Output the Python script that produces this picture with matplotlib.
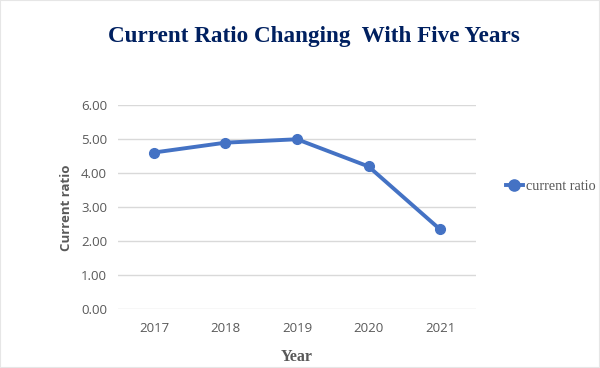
import matplotlib
matplotlib.use("Agg")
import matplotlib.pyplot as plt
from matplotlib.patches import Rectangle

# data
years = ["2017", "2018", "2019", "2020", "2021"]
current_ratio = [4.61, 4.90, 5.00, 4.20, 2.35]
y_ticks = [0, 1, 2, 3, 4, 5, 6]

LINE = "#4472C4"
GRAY = "#595959"
GRID = "#D9D9D9"

fig = plt.figure(figsize=(6, 3.68), dpi=100)
ax = fig.add_axes([0.197, 0.1595, 0.596, 0.5545])

ax.plot(range(len(years)), current_ratio, color=LINE, lw=2.8, marker="o",
        markersize=7, label="current ratio", zorder=3)

ax.set_xlim(-0.5, len(years) - 0.5)
ax.set_ylim(0, 6)
ax.set_xticks(range(len(years)))
ax.set_xticklabels(years)
ax.set_yticks(y_ticks)
ax.set_yticklabels([f"{v:.2f}" for v in y_ticks])
ax.tick_params(axis="y", length=0, labelsize=9.5, colors=GRAY, pad=8)
ax.tick_params(axis="x", length=0, labelsize=9.5, colors=GRAY, pad=9)
for lbl in ax.get_xticklabels() + ax.get_yticklabels():
    lbl.set_family("Open Sans")
ax.grid(axis="y", color=GRID, lw=1)
ax.set_axisbelow(True)
for s in ax.spines.values():
    s.set_visible(False)

ax.set_ylabel("Current ratio", fontsize=9.5, fontweight="bold", color=GRAY,
              family="Open Sans", labelpad=6)
ax.set_xlabel("Year", fontsize=11.5, fontweight="bold", color=GRAY,
              family="Liberation Serif", labelpad=10)

fig.text(0.523, 0.9, "Current Ratio Changing  With Five Years", ha="center",
         va="center", fontsize=16.7, fontweight="bold", color="#002060",
         family="Liberation Serif")

leg = fig.legend(loc="center left", bbox_to_anchor=(0.833, 0.494), frameon=False,
                 prop={"family": "Liberation Serif", "size": 10.3}, handlelength=1.2,
                 handletextpad=0.2, borderaxespad=0, markerscale=1.15)
for t in leg.get_texts():
    t.set_color(GRAY)

fig.patches.append(Rectangle((0, 0), 1, 1, transform=fig.transFigure, fill=False,
                             edgecolor="#E6E6E6", lw=1.5))

fig.savefig("out.png", dpi=100)
